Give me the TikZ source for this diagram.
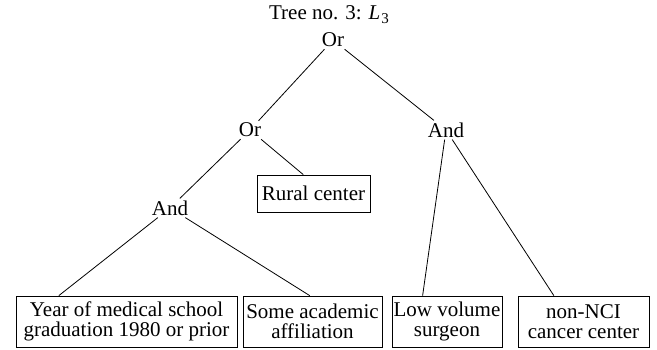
\documentclass[tikz,border=0pt]{standalone}
\usepackage{fontspec}
\setmainfont{Liberation Serif}
\usetikzlibrary{calc}
\begin{document}
\begin{tikzpicture}[x=1pt,y=-1pt,
  txt/.style={font=\fontsize{21}{20.5}\selectfont},
  gate/.style={txt,inner sep=2pt},
  leaf/.style={txt,draw,line width=0.8pt,align=center,inner sep=0pt},
  conn/.style={line width=0.8pt}]
\useasboundingbox (0,0) rectangle (657,349);
\node[txt,inner sep=0pt] (title) at (329,15) {Tree no. 3: \textit{L}\kern1pt\raisebox{-0.4ex}{\fontsize{15}{15}\selectfont 3}};
\node[gate] (or1) at (333,40) {Or};
\node[gate] (or2) at (250,130) {Or};
\node[gate] (and1) at (170,208) {And};
\node[gate] (and2) at (446,130) {And};
\node[leaf,minimum width=113pt,minimum height=37pt] (rural) at (313.5,193.5) {Rural center};
\node[leaf,minimum width=221pt,minimum height=51pt] (b1) at (126.5,321.5) {Year of medical school\\graduation 1980 or prior};
\node[leaf,minimum width=139pt,minimum height=51pt] (b2) at (312.5,321.5) {Some academic\\affiliation};
\node[leaf,minimum width=110pt,minimum height=51pt] (b3) at (447,321.5) {Low volume\\surgeon};
\node[leaf,minimum width=131pt,minimum height=51pt] (b4) at (583.5,321.5) {non-NCI\\cancer center};
\draw[conn] (or1) -- (or2);
\draw[conn] (or1) -- (and2);
\draw[conn] (or2) -- (and1);
\draw[conn] (or2) -- ($(rural.north west)!0.41!(rural.north east)$);
\draw[conn] (and1) -- ($(b1.north west)!0.195!(b1.north east)$);
\draw[conn] (and1) -- ($(b2.north west)!0.48!(b2.north east)$);
\draw[conn] (and2) -- ($(b3.north west)!0.28!(b3.north east)$);
\draw[conn] (and2) -- ($(b4.north west)!0.275!(b4.north east)$);
\end{tikzpicture}
\end{document}
